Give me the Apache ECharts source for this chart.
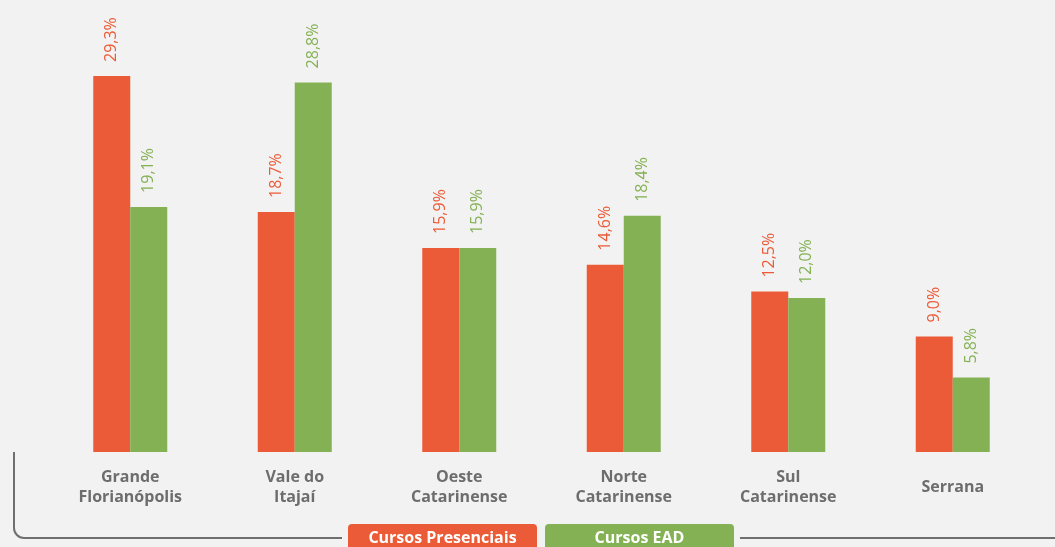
<!DOCTYPE html>
<html><head><meta charset="utf-8">
<script src="https://cdn.jsdelivr.net/npm/echarts@6/dist/echarts.min.js"></script>
<style>html,body{margin:0;padding:0;background:#f2f2f2;}#c{width:1055px;height:547px;}</style>
</head><body><div id="c"></div>
<script>
const categories = ['Grande\nFlorianópolis', 'Vale do\nItajaí', 'Oeste\nCatarinense', 'Norte\nCatarinense', 'Sul\nCatarinense', 'Serrana'];
const presenciais = [29.3, 18.7, 15.9, 14.6, 12.5, 9.0];
const ead = [19.1, 28.8, 15.9, 18.4, 12.0, 5.8];
const seriesNames = ['Cursos Presenciais', 'Cursos EAD'];
const colors = ['#ec5b37', '#84b154'];

const chart = echarts.init(document.getElementById('c'));
const fmt = p => p.value.toFixed(1).replace('.', ',') + '%';
function mk(name, data, color) {
  return {
    name, type: 'bar', data, barWidth: 37, barGap: '0%',
    itemStyle: { color },
    label: { show: true, position: 'top', rotate: 90, align: 'left', verticalAlign: 'middle',
      distance: 14, color, fontSize: 16, fontFamily: 'Open Sans', formatter: fmt }
  };
}
const lineStyle = { stroke: '#6f6f6f', lineWidth: 2, fill: null };
chart.setOption({
  backgroundColor: '#f2f2f2',
  animation: false,
  grid: { left: 48, right: 20, top: 67, bottom: 95, containLabel: false },
  xAxis: { type: 'category', data: categories,
    axisLine: { show: false }, axisTick: { show: false },
    axisLabel: { color: '#6d6d6d', fontWeight: 'bold', fontSize: 16, fontFamily: 'Open Sans',
      lineHeight: 20, verticalAlign: 'middle', margin: 35, interval: 0 } },
  yAxis: { type: 'value', min: 0, max: 30, show: false, splitLine: { show: false } },
  series: [mk(seriesNames[0], presenciais, colors[0]), mk(seriesNames[1], ead, colors[1])],
  graphic: [
    { type: 'line', shape: { x1: 14, y1: 452, x2: 14, y2: 528 }, style: lineStyle },
    { type: 'arc', shape: { cx: 24, cy: 528, r: 10, startAngle: Math.PI / 2, endAngle: Math.PI }, style: lineStyle },
    { type: 'line', shape: { x1: 24, y1: 538, x2: 342, y2: 538 }, style: lineStyle },
    { type: 'line', shape: { x1: 740, y1: 538, x2: 1055, y2: 538 }, style: lineStyle },
    { type: 'rect', shape: { x: 348, y: 524, width: 189, height: 30, r: [4, 4, 0, 0] }, style: { fill: colors[0] } },
    { type: 'rect', shape: { x: 545, y: 524, width: 189, height: 30, r: [4, 4, 0, 0] }, style: { fill: colors[1] } },
    { type: 'text', x: 442.5, y: 538, style: { text: seriesNames[0], fill: '#fff', font: 'bold 16px "Open Sans"', textAlign: 'center', textVerticalAlign: 'middle' } },
    { type: 'text', x: 639.5, y: 538, style: { text: seriesNames[1], fill: '#fff', font: 'bold 16px "Open Sans"', textAlign: 'center', textVerticalAlign: 'middle' } }
  ]
});
</script></body></html>
